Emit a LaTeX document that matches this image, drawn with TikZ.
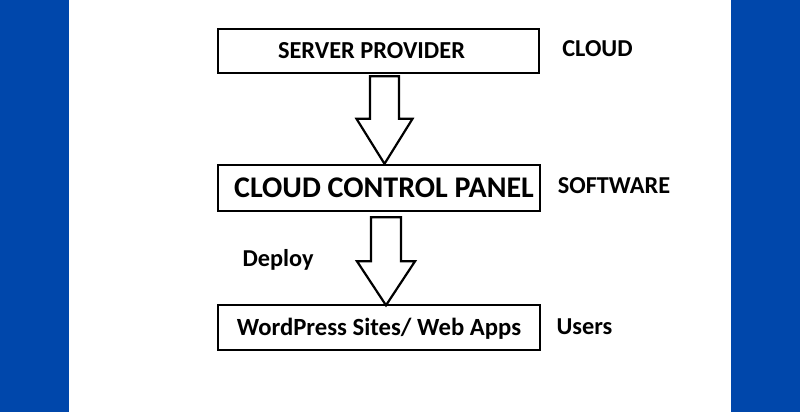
\documentclass[tikz,border=0pt]{standalone}
\usepackage{fontspec}
\setmainfont{Carlito}
\usetikzlibrary{calc}
\definecolor{bandblue}{HTML}{0047AB}
\tikzset{
  box/.style={draw=black, line width=2.4pt, fill=white, inner sep=0pt, text depth=0pt},
  lbl/.style={inner sep=0pt, anchor=base, font=\bfseries\fontsize{24.3}{28}\selectfont},
  blockarrow/.style={draw=black, line width=2.2pt, fill=white, line join=miter}
}
% #1 start coordinate (top centre), #2 tip coordinate, #3 shaft half width, #4 head half width, #5 head length
\newcommand\BlockArr[5]{%
  \draw[blockarrow] let \p1=(#1), \p2=(#2) in
    (\x1-#3,\y1) -- (\x1+#3,\y1) -- (\x1+#3,\y2+#5) -- (\x1+#4,\y2+#5) --
    (\x2,\y2) -- (\x1-#4,\y2+#5) -- (\x1-#3,\y2+#5) -- cycle;}
\begin{document}
\begin{tikzpicture}[x=1pt,y=-1pt]
\fill[white] (0,0) rectangle (800,412);
\useasboundingbox (0,0) rectangle (800,412);
\fill[bandblue] (0,0) rectangle (69,412);
\fill[bandblue] (731,0) rectangle (800,412);

\node[box, minimum width=321pt, minimum height=44pt, text height=15.3pt,
      font=\bfseries\fontsize{24.4}{28}\selectfont] (b1) at (378.5,51) {\hspace*{-14pt}SERVER PROVIDER};
\node[box, minimum width=322pt, minimum height=46pt, text height=18.9pt,
      font=\bfseries\fontsize{30}{34}\selectfont] (b2) at (379,188) {\hspace*{10pt}CLOUD CONTROL PANEL};
\node[box, minimum width=322pt, minimum height=45pt, text height=15.5pt,
      font=\bfseries\fontsize{24.7}{28}\selectfont] (b3) at (379,327.5) {WordPress Sites/ Web Apps};

\node[lbl] (cloud) at (597.5,56.5) {CLOUD};
\node[lbl] (soft) at (614,193) {SOFTWARE};
\node[lbl] (deploy) at (278,266) {Deploy};
\node[lbl] (users) at (584.5,334) {Users};

\coordinate (a1s) at ($(b1.south)+(6,2)$);
\coordinate (a1t) at ($(b2.north)+(5.5,0)$);
\coordinate (a2s) at ($(b2.south)+(7,5)$);
\coordinate (a2t) at ($(b3.north)+(7,1.5)$);
\BlockArr{a1s}{a1t}{14.5pt}{28pt}{45pt}
\BlockArr{a2s}{a2t}{15pt}{29pt}{44pt}
\end{tikzpicture}
\end{document}
